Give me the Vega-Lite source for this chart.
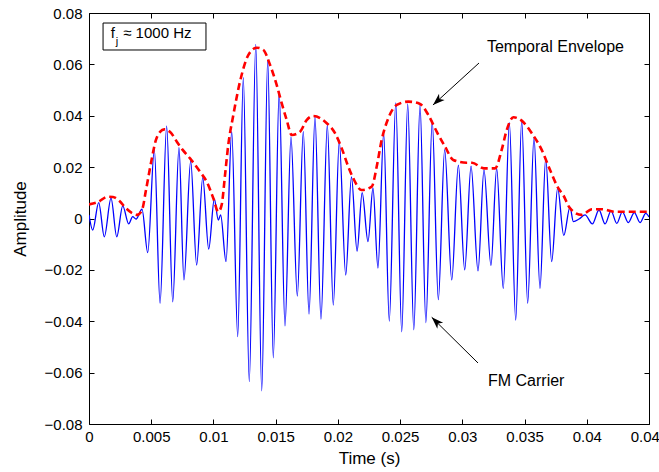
{
  "$schema": "https://vega.github.io/schema/vega-lite/v6.json",
  "autosize": {"type": "none"},
  "padding": {"left": 89, "top": 13, "right": 10, "bottom": 48},
  "width": 560,
  "height": 411,
  "background": "white",
  "config": {
    "view": {"stroke": "black", "strokeWidth": 1},
    "font": "Liberation Sans",
    "axis": {
      "domain": false, "grid": false, "tickColor": "black", "tickSize": -5, "tickWidth": 1, "labelFlush": false,
      "labelColor": "black", "labelFont": "Liberation Sans", "labelFontSize": 15,
      "titleColor": "black", "titleFont": "Liberation Sans", "titleFontSize": 17, "titleFontWeight": "normal"
    }
  },
  "datasets": {
    "carrier": [
      {"t":0,"a":0.0014},{"t":0.000297,"a":-0.0045},{"t":0.00078,"a":0.0062},{"t":0.00123,"a":-0.0071},
      {"t":0.00177,"a":0.0079},{"t":0.00223,"a":-0.0071},{"t":0.00271,"a":0.0049},{"t":0.00319,"a":-0.0021},
      {"t":0.00351,"a":0.0007},{"t":0.00378,"a":-0.0002},{"t":0.00426,"a":0.0036},{"t":0.00472,"a":-0.0133},
      {"t":0.00525,"a":0.0269},{"t":0.00571,"a":-0.033},{"t":0.00624,"a":0.036},{"t":0.00673,"a":-0.0324},
      {"t":0.00723,"a":0.0276},{"t":0.00763,"a":-0.0239},{"t":0.00817,"a":0.0224},{"t":0.00865,"a":-0.0181},
      {"t":0.00914,"a":0.0159},{"t":0.00962,"a":-0.0119},{"t":0.01007,"a":0.0076},{"t":0.01039,"a":-0.0006},
      {"t":0.01058,"a":0.0014},{"t":0.01101,"a":-0.0168},{"t":0.01147,"a":0.0338},{"t":0.01195,"a":-0.046},
      {"t":0.0124,"a":0.0548},{"t":0.01288,"a":-0.0635},{"t":0.0134,"a":0.0678},{"t":0.01388,"a":-0.0671},
      {"t":0.01436,"a":0.0617},{"t":0.01481,"a":-0.0542},{"t":0.01528,"a":0.0494},{"t":0.01575,"a":-0.0418},
      {"t":0.01623,"a":0.0318},{"t":0.01674,"a":-0.0302},{"t":0.01722,"a":0.0338},{"t":0.01768,"a":-0.0372},
      {"t":0.01816,"a":0.0396},{"t":0.01864,"a":-0.0392},{"t":0.01915,"a":0.0364},{"t":0.01963,"a":-0.0337},
      {"t":0.02011,"a":0.0299},{"t":0.02063,"a":-0.022},{"t":0.02109,"a":0.0162},{"t":0.02154,"a":-0.0127},
      {"t":0.02195,"a":0.0101},{"t":0.02242,"a":-0.009},{"t":0.02282,"a":0.0119},{"t":0.02322,"a":-0.0193},
      {"t":0.02368,"a":0.0332},{"t":0.02413,"a":-0.0399},{"t":0.02465,"a":0.045},{"t":0.02513,"a":-0.0441},
      {"t":0.02561,"a":0.0446},{"t":0.0261,"a":-0.0433},{"t":0.0266,"a":0.0442},{"t":0.02707,"a":-0.0405},
      {"t":0.02758,"a":0.0379},{"t":0.02807,"a":-0.0316},{"t":0.02858,"a":0.0268},{"t":0.02915,"a":-0.0239},
      {"t":0.02968,"a":0.0208},{"t":0.03019,"a":-0.02},{"t":0.0307,"a":0.0204},{"t":0.03126,"a":-0.0204},
      {"t":0.03174,"a":0.0189},{"t":0.0323,"a":-0.0183},{"t":0.03276,"a":0.0195},{"t":0.03329,"a":-0.0272},
      {"t":0.03378,"a":0.0373},{"t":0.03429,"a":-0.0396},{"t":0.03477,"a":0.0381},{"t":0.03525,"a":-0.033},
      {"t":0.03576,"a":0.0316},{"t":0.03624,"a":-0.0272},{"t":0.0367,"a":0.0234},{"t":0.03718,"a":-0.0168},
      {"t":0.03766,"a":0.0118},{"t":0.03815,"a":-0.0066},{"t":0.03865,"a":0.0044},{"t":0.03892,"a":-0.0012},
      {"t":0.03938,"a":-0.0002},{"t":0.03986,"a":0.0014},{"t":0.04045,"a":-0.0021},{"t":0.04098,"a":0.0033},
      {"t":0.04147,"a":-0.0021},{"t":0.04195,"a":0.003},{"t":0.04241,"a":-0.0019},{"t":0.04286,"a":0.0026},
      {"t":0.04334,"a":-0.0016},{"t":0.04382,"a":0.0023},{"t":0.04428,"a":-0.0016},{"t":0.04474,"a":0.002},
      {"t":0.045,"a":0.0006}
    ],
    "envelope": [
      {"t":0,"a":0.0055},{"t":0.00072,"a":0.0064},{"t":0.0015,"a":0.0085},{"t":0.00193,"a":0.0084},
      {"t":0.00243,"a":0.0069},{"t":0.00297,"a":0.004},{"t":0.00346,"a":0.0021},{"t":0.00386,"a":0.0014},
      {"t":0.00426,"a":0.0033},{"t":0.00458,"a":0.0111},{"t":0.00498,"a":0.0216},{"t":0.00538,"a":0.0306},
      {"t":0.00571,"a":0.0337},{"t":0.00605,"a":0.0347},{"t":0.00659,"a":0.0333},{"t":0.00707,"a":0.0298},
      {"t":0.00753,"a":0.0267},{"t":0.00812,"a":0.0234},{"t":0.00892,"a":0.0182},{"t":0.00946,"a":0.0143},
      {"t":0.00999,"a":0.0079},{"t":0.01039,"a":0.0026},{"t":0.01066,"a":0.0053},{"t":0.01093,"a":0.0169},
      {"t":0.01119,"a":0.0286},{"t":0.0116,"a":0.0403},{"t":0.01213,"a":0.0532},{"t":0.0128,"a":0.0636},
      {"t":0.01348,"a":0.0665},{"t":0.01401,"a":0.0656},{"t":0.01455,"a":0.0598},{"t":0.01508,"a":0.052},
      {"t":0.01549,"a":0.0448},{"t":0.01589,"a":0.0383},{"t":0.01629,"a":0.0325},{"t":0.01696,"a":0.0338},
      {"t":0.01749,"a":0.0383},{"t":0.01802,"a":0.0399},{"t":0.01897,"a":0.0377},{"t":0.01977,"a":0.0332},
      {"t":0.02031,"a":0.0273},{"t":0.02079,"a":0.0208},{"t":0.02124,"a":0.0156},{"t":0.02191,"a":0.0111},
      {"t":0.02272,"a":0.0124},{"t":0.02312,"a":0.0202},{"t":0.02352,"a":0.0306},{"t":0.02405,"a":0.039},
      {"t":0.02473,"a":0.0442},{"t":0.02566,"a":0.0455},{"t":0.0266,"a":0.0446},{"t":0.02727,"a":0.0403},
      {"t":0.02794,"a":0.0338},{"t":0.02861,"a":0.028},{"t":0.02927,"a":0.0228},{"t":0.03035,"a":0.0217},
      {"t":0.03078,"a":0.0217},{"t":0.03174,"a":0.0195},{"t":0.03263,"a":0.0195},{"t":0.03316,"a":0.0267},
      {"t":0.03357,"a":0.0345},{"t":0.0341,"a":0.0394},{"t":0.03477,"a":0.0381},{"t":0.03558,"a":0.0332},
      {"t":0.03638,"a":0.0267},{"t":0.03705,"a":0.0189},{"t":0.03771,"a":0.0118},{"t":0.03811,"a":0.0091},
      {"t":0.03865,"a":0.004},{"t":0.03959,"a":0.0014},{"t":0.04042,"a":0.0036},{"t":0.04122,"a":0.0036},
      {"t":0.04227,"a":0.0026},{"t":0.045,"a":0.0026}
    ]
  },
  "layer": [
    {
      "data": {"name": "carrier"},
      "mark": {"type": "line", "color": "#0000ff", "strokeWidth": 1.3, "interpolate": "monotone", "clip": true},
      "encoding": {
        "x": {"field": "t", "type": "quantitative", "scale": {"domain": [0, 0.045], "nice": false, "zero": false},
          "axis": {"orient": "bottom", "title": "Time (s)", "format": "~g", "values": [0,0.005,0.01,0.015,0.02,0.025,0.03,0.035,0.04,0.045], "labelPadding": 10, "titlePadding": 6}},
        "y": {"field": "a", "type": "quantitative", "scale": {"domain": [-0.08, 0.08], "nice": false, "zero": false},
          "axis": {"orient": "left", "title": "Amplitude", "format": "~g", "values": [-0.08,-0.06,-0.04,-0.02,0,0.02,0.04,0.06,0.08], "labelPadding": 12, "titlePadding": 15}}
      }
    },
    {
      "data": {"name": "envelope"},
      "mark": {"type": "line", "color": "#ff0000", "strokeWidth": 2.6, "strokeDash": [7, 4], "interpolate": "monotone", "clip": true},
      "encoding": {
        "x": {"field": "t", "type": "quantitative", "axis": {"orient": "top", "labels": false, "title": null, "values": [0,0.005,0.01,0.015,0.02,0.025,0.03,0.035,0.04,0.045]}},
        "y": {"field": "a", "type": "quantitative", "axis": {"orient": "right", "labels": false, "title": null, "values": [-0.08,-0.06,-0.04,-0.02,0,0.02,0.04,0.06,0.08]}}
      }
    },
    {
      "data": {"values": [{"t1": 0.00113, "t2": 0.0094, "a1": 0.0761, "a2": 0.0656}]},
      "mark": {"type": "rect", "fill": "white", "stroke": "black", "strokeWidth": 1},
      "encoding": {
        "x": {"field": "t1", "type": "quantitative", "axis": null}, "x2": {"field": "t2"},
        "y": {"field": "a1", "type": "quantitative", "axis": null}, "y2": {"field": "a2"}
      }
    },
    {
      "data": {"values": [{"t": 0.00175, "a": 0.0722, "label": "f"}]},
      "mark": {"type": "text", "align": "left", "baseline": "middle", "fontSize": 15, "color": "black"},
      "encoding": {"x": {"field": "t", "type": "quantitative", "axis": null}, "y": {"field": "a", "type": "quantitative", "axis": null}, "text": {"field": "label"}}
    },
    {
      "data": {"values": [{"t": 0.00215, "a": 0.0686, "label": "j"}]},
      "mark": {"type": "text", "align": "left", "baseline": "middle", "fontSize": 11, "color": "black"},
      "encoding": {"x": {"field": "t", "type": "quantitative", "axis": null}, "y": {"field": "a", "type": "quantitative", "axis": null}, "text": {"field": "label"}}
    },
    {
      "data": {"values": [{"t": 0.00275, "a": 0.0722, "label": "≈ 1000 Hz"}]},
      "mark": {"type": "text", "align": "left", "baseline": "middle", "fontSize": 15, "color": "black"},
      "encoding": {"x": {"field": "t", "type": "quantitative", "axis": null}, "y": {"field": "a", "type": "quantitative", "axis": null}, "text": {"field": "label"}}
    },
    {
      "data": {"values": [{"t": 0.03198, "a": 0.0668, "label": "Temporal Envelope"}, {"t": 0.03206, "a": -0.0633, "label": "FM Carrier"}]},
      "mark": {"type": "text", "align": "left", "baseline": "middle", "fontSize": 16, "color": "black"},
      "encoding": {"x": {"field": "t", "type": "quantitative", "axis": null}, "y": {"field": "a", "type": "quantitative", "axis": null}, "text": {"field": "label"}}
    },
    {
      "data": {"values": [{"t1": 0.03134, "a1": 0.06053, "t2": 0.02764, "a2": 0.04418}, {"t1": 0.03126, "a1": -0.05625, "t2": 0.02754, "a2": -0.03846}]},
      "mark": {"type": "rule", "color": "black", "strokeWidth": 1},
      "encoding": {
        "x": {"field": "t1", "type": "quantitative", "axis": null}, "x2": {"field": "t2"},
        "y": {"field": "a1", "type": "quantitative", "axis": null}, "y2": {"field": "a2"}
      }
    },
    {
      "data": {"values": [{"t": 0.02764, "a": 0.04418}]},
      "mark": {"type": "point", "shape": "M0,0L-0.45,1.3L0,0.95L0.45,1.3Z", "filled": true, "color": "black", "opacity": 1, "size": 340, "angle": 227.6},
      "encoding": {"x": {"field": "t", "type": "quantitative", "axis": null}, "y": {"field": "a", "type": "quantitative", "axis": null}}
    },
    {
      "data": {"values": [{"t": 0.02754, "a": -0.03846}]},
      "mark": {"type": "point", "shape": "M0,0L-0.45,1.3L0,0.95L0.45,1.3Z", "filled": true, "color": "black", "opacity": 1, "size": 340, "angle": 314.6},
      "encoding": {"x": {"field": "t", "type": "quantitative", "axis": null}, "y": {"field": "a", "type": "quantitative", "axis": null}}
    }
  ],
  "resolve": {"axis": {"x": "independent", "y": "independent"}}
}
